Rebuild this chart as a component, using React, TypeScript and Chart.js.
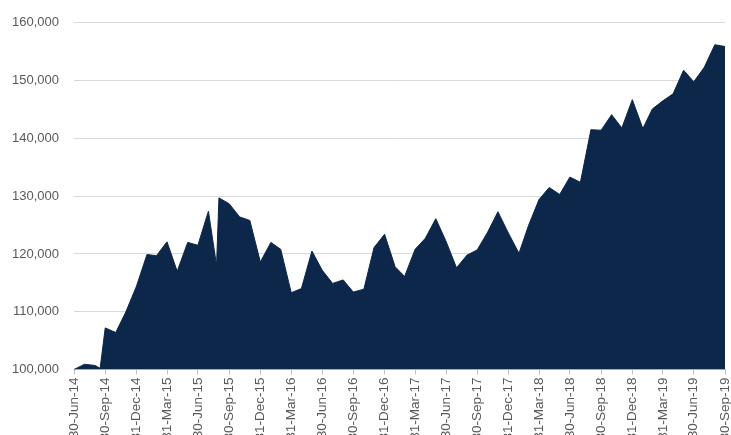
import React, { useEffect, useRef } from "react";
import { Chart, registerables } from "chart.js";

Chart.register(...registerables);

const dates: string[] = [
  "2014-06-30", "2014-07-31", "2014-08-31", "2014-09-15", "2014-09-30", "2014-10-31", "2014-11-30", "2014-12-31",
  "2015-01-31", "2015-02-28", "2015-03-31", "2015-04-30", "2015-05-31", "2015-06-30", "2015-07-31", "2015-08-24",
  "2015-08-31", "2015-09-30", "2015-10-31", "2015-11-30", "2015-12-31",
  "2016-01-31", "2016-02-29", "2016-03-31", "2016-04-30", "2016-05-31", "2016-06-30", "2016-07-31", "2016-08-31",
  "2016-09-30", "2016-10-31", "2016-11-30", "2016-12-31",
  "2017-01-31", "2017-02-28", "2017-03-31", "2017-04-30", "2017-05-31", "2017-06-30", "2017-07-31", "2017-08-31",
  "2017-09-30", "2017-10-31", "2017-11-30", "2017-12-31",
  "2018-01-31", "2018-02-28", "2018-03-31", "2018-04-30", "2018-05-31", "2018-06-30", "2018-07-31", "2018-08-31",
  "2018-09-30", "2018-10-31", "2018-11-30", "2018-12-31",
  "2019-01-31", "2019-02-28", "2019-03-31", "2019-04-30", "2019-05-31", "2019-06-30", "2019-07-31", "2019-08-31",
  "2019-09-30",
];

const values: number[] = [
  100000, 100900, 100700, 100200, 107200, 106400, 110000, 114400,
  119900, 119700, 122100, 117000, 122000, 121500, 127400, 118000,
  129700, 128700, 126400, 125800, 118600,
  122000, 120800, 113300, 114000, 120500, 117200, 114900, 115500,
  113400, 113900, 121100, 123400,
  117800, 116100, 120800, 122700, 126100, 122200, 117600, 119800,
  120700, 123800, 127300, 123600,
  120100, 124900, 129400, 131500, 130300, 133300, 132400, 141500,
  141400, 144100, 141800, 146700,
  141700, 145100, 146500, 147700, 151800, 149800, 152300, 156200,
  155900,
];

const tickDates: string[] = [
  "2014-06-30", "2014-09-30", "2014-12-31", "2015-03-31", "2015-06-30", "2015-09-30", "2015-12-31",
  "2016-03-31", "2016-06-30", "2016-09-30", "2016-12-31", "2017-03-31", "2017-06-30", "2017-09-30",
  "2017-12-31", "2018-03-31", "2018-06-30", "2018-09-30", "2018-12-31", "2019-03-31", "2019-06-30",
  "2019-09-30",
];

const tickLabels: string[] = [
  "30-Jun-14", "30-Sep-14", "31-Dec-14", "31-Mar-15", "30-Jun-15", "30-Sep-15", "31-Dec-15",
  "31-Mar-16", "30-Jun-16", "30-Sep-16", "31-Dec-16", "31-Mar-17", "30-Jun-17", "30-Sep-17",
  "31-Dec-17", "31-Mar-18", "30-Jun-18", "30-Sep-18", "31-Dec-18", "31-Mar-19", "30-Jun-19",
  "30-Sep-19",
];

const yMin = 100000;
const yMax = 160000;
const yStep = 10000;

const toDays = (s: string): number => {
  const [y, m, d] = s.split("-").map(Number);
  return Math.round((Date.UTC(y, m - 1, d) - Date.UTC(2014, 5, 30)) / 86400000);
};

export default function App() {
  const ref = useRef<HTMLCanvasElement | null>(null);

  useEffect(() => {
    if (!ref.current) return;
    const pts = dates.map((d, i) => ({ x: toDays(d), y: values[i] }));
    const tickVals = tickDates.map(toDays);
    const labelMap = new Map<number, string>();
    tickVals.forEach((v, i) => labelMap.set(v, tickLabels[i]));

    const chart = new Chart(ref.current, {
      type: "line",
      data: {
        datasets: [
          {
            data: pts,
            fill: "start",
            backgroundColor: "#0c2749",
            borderColor: "#0c2749",
            borderWidth: 1,
            pointRadius: 0,
            tension: 0,
          },
        ],
      },
      options: {
        animation: false,
        responsive: false,
        maintainAspectRatio: false,
        layout: { padding: { top: 22, right: 6, left: 0, bottom: 0 } },
        plugins: { legend: { display: false }, tooltip: { enabled: false } },
        scales: {
          x: {
            type: "linear",
            min: 0,
            max: toDays("2019-09-30"),
            afterBuildTicks: (scale: any) => {
              scale.ticks = tickVals.map((v) => ({ value: v }));
            },
            afterFit: (scale: any) => {
              scale.height = 65.5;
              scale.paddingLeft = 0;
              scale.paddingRight = 0;
            },
            grid: {
              drawOnChartArea: false,
              drawTicks: true,
              tickLength: 5,
              color: "#bfbfbf",
            },
            border: { color: "#bfbfbf", width: 1 },
            ticks: {
              autoSkip: false,
              maxRotation: 90,
              minRotation: 90,
              padding: 3,
              color: "#595959",
              font: { family: "'Liberation Sans', Arial, sans-serif", size: 13.5 },
              callback: (v: any) => labelMap.get(Number(v)) ?? "",
            },
          },
          y: {
            type: "linear",
            min: yMin,
            max: yMax,
            afterFit: (scale: any) => {
              scale.width = 74;
            },
            grid: { color: "#d9d9d9", drawTicks: false, lineWidth: 1 },
            border: { display: false },
            ticks: {
              stepSize: yStep,
              padding: 15,
              color: "#595959",
              font: { family: "'Liberation Sans', Arial, sans-serif", size: 13 },
              callback: (v: any) => Number(v).toLocaleString("en-US"),
            },
          },
        },
      },
    });
    return () => chart.destroy();
  }, []);

  return (
    <div style={{ position: "fixed", left: 0, top: 0, width: 731, height: 435, background: "#ffffff", overflow: "hidden" }}>
      <canvas ref={ref} width={731} height={435} style={{ width: 731, height: 435, display: "block" }} />
    </div>
  );
}
